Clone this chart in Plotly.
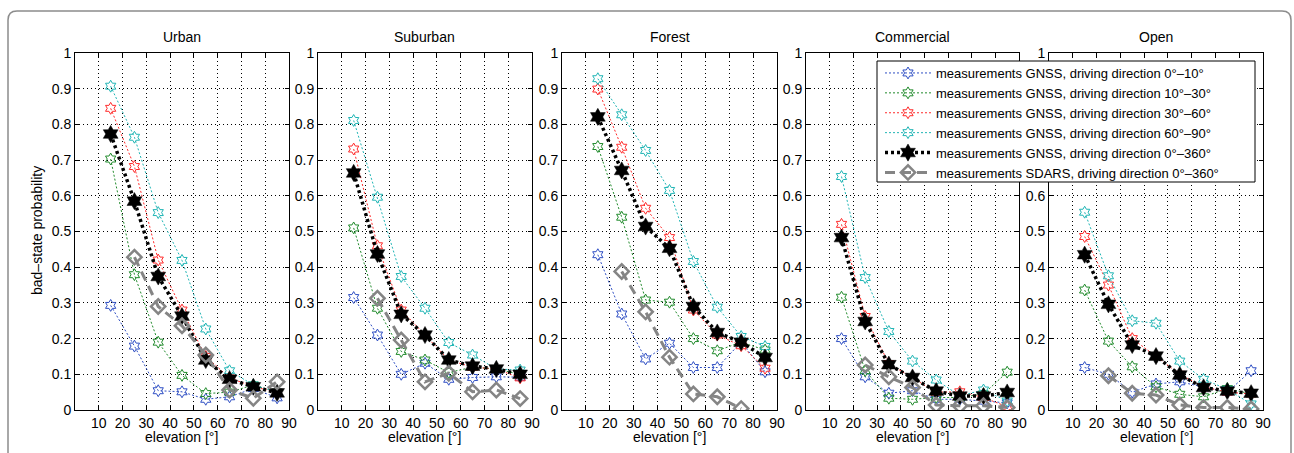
import plotly.graph_objects as go

W, H = 1294, 453

# ---------------- data ----------------
ELEVATION = [15, 25, 35, 45, 55, 65, 75, 85]
X_TICKS = [10, 20, 30, 40, 50, 60, 70, 80, 90]
Y_TICKS = [0, 0.1, 0.2, 0.3, 0.4, 0.5, 0.6, 0.7, 0.8, 0.9, 1]
Y_TICK_TEXT = ["0", "0.1", "0.2", "0.3", "0.4", "0.5", "0.6", "0.7", "0.8", "0.9", "1"]
# in the last panel the legend box hides the 0.7 - 0.9 labels
Y_TICK_TEXT_OPEN = ["0", "0.1", "0.2", "0.3", "0.4", "0.5", "0.6", "", "", "", "1"]
PANELS = ["Urban", "Suburban", "Forest", "Commercial", "Open"]
SERIES_NAMES = [
    "measurements GNSS, driving direction 0°–10°",
    "measurements GNSS, driving direction 10°–30°",
    "measurements GNSS, driving direction 30°–60°",
    "measurements GNSS, driving direction 60°–90°",
    "measurements GNSS, driving direction 0°–360°",
    "measurements SDARS, driving direction 0°–360°",
]

urban_0_10 = [0.293, 0.179, 0.054, 0.051, 0.030, 0.037, 0.060, 0.034]
urban_10_30 = [0.703, 0.379, 0.190, 0.097, 0.046, 0.050, 0.070, 0.050]
urban_30_60 = [0.845, 0.682, 0.420, 0.280, 0.150, 0.090, 0.065, 0.050]
urban_60_90 = [0.907, 0.764, 0.553, 0.419, 0.227, 0.110, 0.070, 0.050]
urban_0_360 = [0.773, 0.585, 0.374, 0.263, 0.140, 0.086, 0.065, 0.048]
urban_sdars = [None, 0.428, 0.290, 0.236, 0.154, 0.056, 0.033, 0.079]

suburban_0_10 = [0.315, 0.210, 0.100, 0.131, 0.086, 0.091, 0.093, 0.092]
suburban_10_30 = [0.510, 0.285, 0.164, 0.140, 0.105, 0.120, 0.115, 0.100]
suburban_30_60 = [0.731, 0.460, 0.280, 0.210, 0.140, 0.120, 0.115, 0.090]
suburban_60_90 = [0.811, 0.596, 0.374, 0.285, 0.189, 0.154, 0.115, 0.112]
suburban_0_360 = [0.664, 0.437, 0.268, 0.210, 0.140, 0.123, 0.115, 0.100]
suburban_sdars = [None, 0.313, 0.196, 0.079, 0.103, 0.051, 0.056, 0.032]

forest_0_10 = [0.435, 0.269, 0.143, 0.187, 0.119, 0.119, 0.190, 0.107]
forest_10_30 = [0.738, 0.540, 0.308, 0.302, 0.200, 0.166, 0.190, 0.168]
forest_30_60 = [0.899, 0.736, 0.565, 0.483, 0.280, 0.210, 0.180, 0.117]
forest_60_90 = [0.928, 0.827, 0.727, 0.615, 0.416, 0.288, 0.206, 0.178]
forest_0_360 = [0.821, 0.671, 0.514, 0.453, 0.290, 0.217, 0.190, 0.147]
forest_sdars = [None, 0.388, 0.275, 0.148, 0.045, 0.037, 0.004, None]

commercial_0_10 = [0.200, 0.093, 0.047, 0.054, 0.030, 0.030, 0.025, 0.020]
commercial_10_30 = [0.316, 0.110, 0.033, 0.030, 0.035, 0.035, 0.045, 0.106]
commercial_30_60 = [0.520, 0.262, 0.130, 0.090, 0.050, 0.051, 0.035, 0.009]
commercial_60_90 = [0.654, 0.371, 0.220, 0.137, 0.084, 0.040, 0.056, 0.025]
commercial_0_360 = [0.483, 0.248, 0.127, 0.091, 0.053, 0.039, 0.039, 0.049]
commercial_sdars = [None, 0.126, 0.093, 0.063, 0.014, 0.012, 0.012, 0.007]

open_0_10 = [0.119, 0.100, 0.050, 0.073, 0.079, 0.065, 0.050, 0.110]
open_10_30 = [0.336, 0.193, 0.121, 0.065, 0.044, 0.037, 0.060, 0.045]
open_30_60 = [0.486, 0.350, 0.200, 0.150, 0.100, 0.065, 0.050, 0.045]
open_60_90 = [0.554, 0.376, 0.250, 0.243, 0.137, 0.086, 0.058, 0.017]
open_0_360 = [0.435, 0.296, 0.182, 0.151, 0.098, 0.063, 0.053, 0.047]
open_sdars = [None, 0.096, 0.047, 0.042, 0.014, 0.007, 0.007, 0.003]

PANEL_DATA = [
    [urban_0_10, urban_10_30, urban_30_60, urban_60_90, urban_0_360, urban_sdars],
    [suburban_0_10, suburban_10_30, suburban_30_60, suburban_60_90, suburban_0_360, suburban_sdars],
    [forest_0_10, forest_10_30, forest_30_60, forest_60_90, forest_0_360, forest_sdars],
    [commercial_0_10, commercial_10_30, commercial_30_60, commercial_60_90, commercial_0_360, commercial_sdars],
    [open_0_10, open_10_30, open_30_60, open_60_90, open_0_360, open_sdars],
]

# ---------------- styles ----------------
FONT = "Liberation Sans"
STYLES = [
    dict(line=dict(color="#2f4fc4", width=1, dash="2px,2px"),
         marker=dict(symbol="hexagram-open", size=9, color="#2f4fc4", line=dict(width=1, color="#2f4fc4"))),
    dict(line=dict(color="#1f8a2a", width=1, dash="2px,2px"),
         marker=dict(symbol="hexagram-open", size=9, color="#1f8a2a", line=dict(width=1, color="#1f8a2a"))),
    dict(line=dict(color="#ff2a2a", width=1, dash="2px,2px"),
         marker=dict(symbol="hexagram-open", size=9, color="#ff2a2a", line=dict(width=1, color="#ff2a2a"))),
    dict(line=dict(color="#1fb5b5", width=1, dash="2px,2px"),
         marker=dict(symbol="hexagram-open", size=9, color="#1fb5b5", line=dict(width=1, color="#1fb5b5"))),
    dict(line=dict(color="black", width=3.5, dash="3px,3px"),
         marker=dict(symbol="hexagram", size=13, color="black", line=dict(width=0.5, color="black"))),
    dict(line=dict(color="#858585", width=3, dash="10px,6px"),
         marker=dict(symbol="diamond-open", size=11, color="#858585", line=dict(width=2.5, color="#858585"))),
]

# pixel layout
X_DOMAINS_PX = [(75, 289), (318, 532), (562, 777), (806, 1019), (1049, 1263)]
Y_TOP_PX, Y_BOT_PX = 53, 410


def fx(px):
    return px / W


def fy(py):
    return 1 - py / H


fig = go.Figure()

for p, panel in enumerate(PANELS):
    ax = "" if p == 0 else str(p + 1)
    for s, series in enumerate(PANEL_DATA[p]):
        st = STYLES[s]
        fig.add_trace(go.Scatter(
            x=ELEVATION, y=series, mode="lines+markers",
            name=SERIES_NAMES[s], legendgroup=SERIES_NAMES[s],
            showlegend=(p == 0), line=st["line"], marker=st["marker"],
            xaxis="x" + ax, yaxis="y" + ax, connectgaps=False,
            hoverinfo="skip",
        ))

layout = dict(
    width=W, height=H, autosize=False,
    margin=dict(l=0, r=0, t=0, b=0),
    paper_bgcolor="white", plot_bgcolor="white",
    font=dict(family=FONT, size=14, color="black"),
    showlegend=True,
    legend=dict(
        x=fx(880), y=fy(58), xanchor="left", yanchor="top",
        bgcolor="rgba(0,0,0,0)", borderwidth=0,
        font=dict(family=FONT, size=13, color="black"),
        itemwidth=46, tracegroupgap=0,
    ),
)

common = dict(
    showline=True, linecolor="black", linewidth=1, mirror="ticks",
    ticks="inside", ticklen=4, tickcolor="black", tickwidth=1,
    showgrid=True, gridcolor="black", gridwidth=1, griddash="1px,3px",
    zeroline=False, fixedrange=True, automargin=False,
    tickfont=dict(family=FONT, size=14, color="black"),
)

annotations = []
for p, panel in enumerate(PANELS):
    ax = "" if p == 0 else str(p + 1)
    x0, x1 = X_DOMAINS_PX[p]
    layout["xaxis" + ax] = dict(
        common, domain=[fx(x0), fx(x1)], range=[0, 90], tickvals=X_TICKS,
        anchor="y" + ax,
    )
    layout["yaxis" + ax] = dict(
        common, domain=[fy(Y_BOT_PX), fy(Y_TOP_PX)], range=[0, 1],
        tickvals=Y_TICKS,
        ticktext=Y_TICK_TEXT_OPEN if panel == "Open" else Y_TICK_TEXT,
        anchor="x" + ax,
    )
    cx = (x0 + x1) / 2
    annotations.append(dict(
        text=panel, x=fx(cx), y=fy(37), xref="paper", yref="paper",
        showarrow=False, xanchor="center", yanchor="middle",
        font=dict(family=FONT, size=14, color="black"),
    ))
    annotations.append(dict(
        text="elevation [°]", x=fx(cx), y=fy(437), xref="paper", yref="paper",
        showarrow=False, xanchor="center", yanchor="middle",
        font=dict(family=FONT, size=14, color="black"),
    ))

annotations.append(dict(
    text="bad–state probability", x=fx(37), y=fy(231), xref="paper", yref="paper",
    showarrow=False, xanchor="center", yanchor="middle", textangle=-90,
    font=dict(family=FONT, size=14, color="black"),
))
layout["annotations"] = annotations

# outer rounded frame and legend box
L, T, R, B, r = 8, 11, 1291, 470, 9
frame_path = (
    f"M {fx(L)},{fy(B)} L {fx(L)},{fy(T + r)} Q {fx(L)},{fy(T)} {fx(L + r)},{fy(T)} "
    f"L {fx(R - r)},{fy(T)} Q {fx(R)},{fy(T)} {fx(R)},{fy(T + r)} L {fx(R)},{fy(B)}"
)
layout["shapes"] = [
    dict(type="path", path=frame_path, xref="paper", yref="paper",
         line=dict(color="#8c8c8c", width=1.5), layer="below"),
    dict(type="rect", xref="paper", yref="paper",
         x0=fx(877), x1=fx(1255), y0=fy(61), y1=fy(182),
         fillcolor="white", line=dict(color="black", width=1), layer="above"),
]

fig.update_layout(**layout)
fig.write_html(
    "out.html",
    config={"displayModeBar": False},
    post_script="document.body.style.margin='0';document.body.style.overflow='hidden';",
)
